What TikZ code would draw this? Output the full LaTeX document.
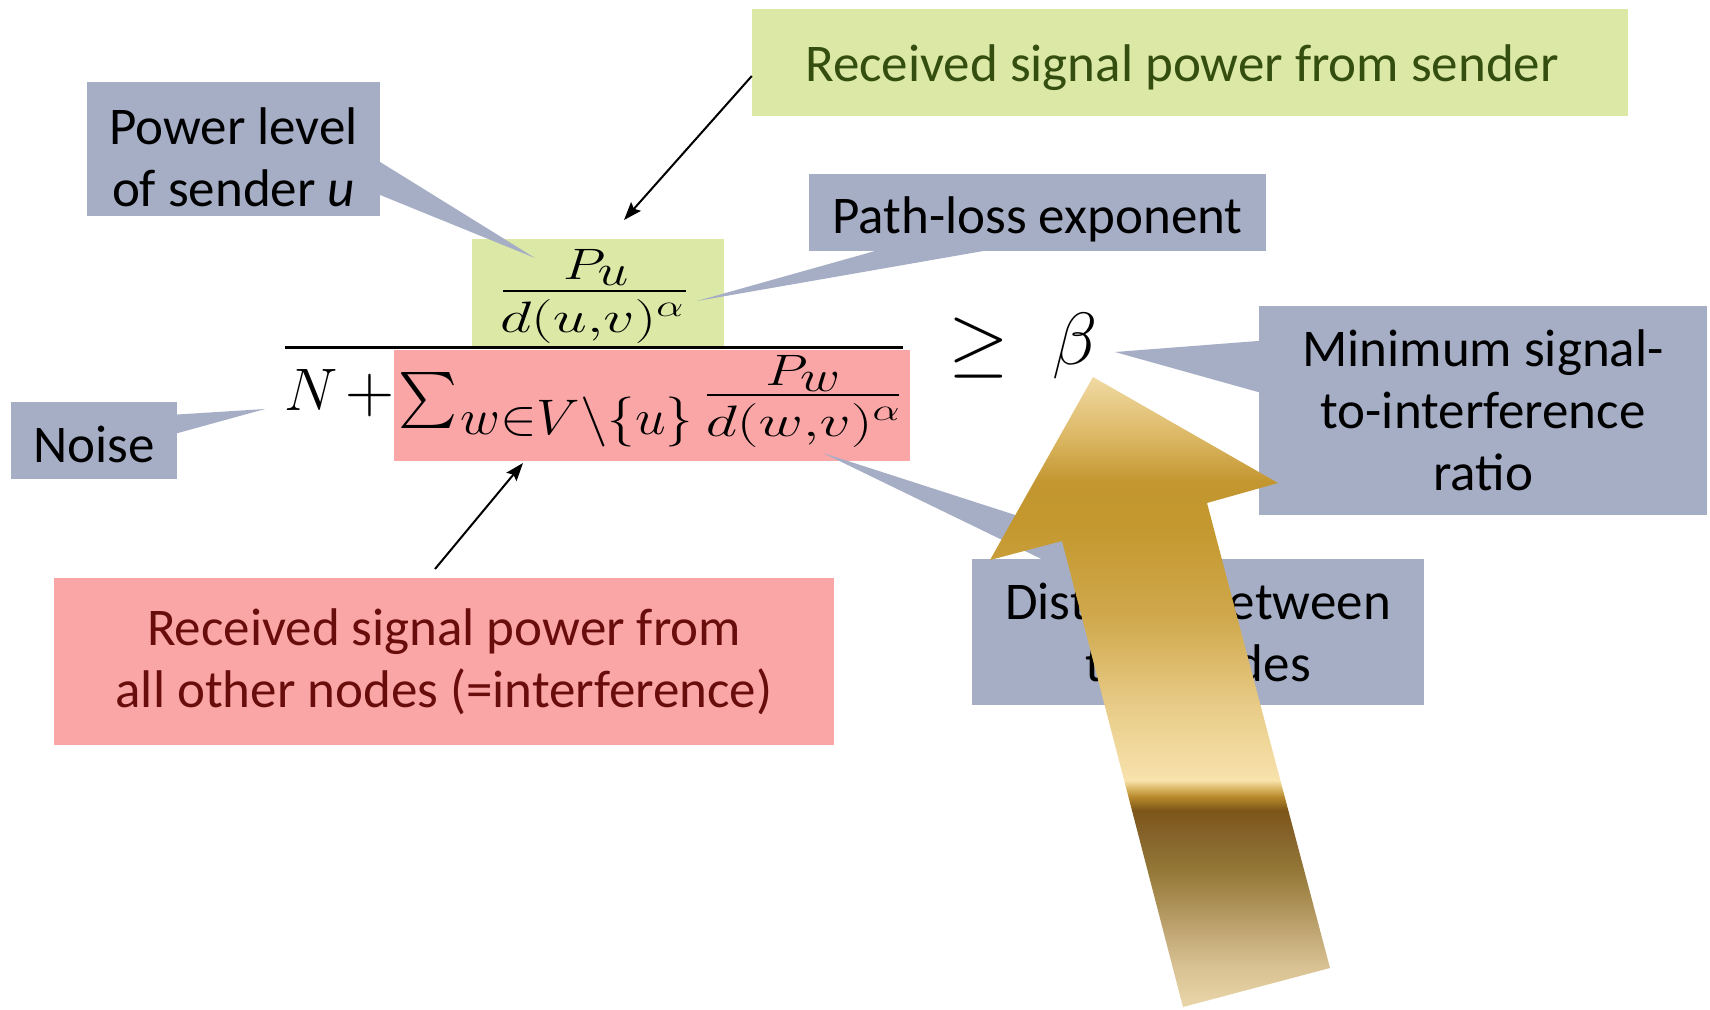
\RequirePackage{fix-cm}
\documentclass[tikz,border=0pt]{standalone}
\usepackage{amsmath}
\usepackage{graphicx}
\usepackage[no-math]{fontspec}
\setmainfont{Carlito}
\usetikzlibrary{arrows.meta,calc}
\definecolor{bgray}{RGB}{166,174,198}
\definecolor{lgreen}{RGB}{219,232,166}
\definecolor{lred}{RGB}{250,166,166}
\definecolor{dgreen}{RGB}{52,78,16}
\definecolor{dred}{RGB}{105,12,12}
\definecolor{gA}{HTML}{E9D6A8}
\definecolor{gB}{HTML}{D8C193}
\definecolor{gC}{HTML}{C1A774}
\definecolor{gD}{HTML}{A98D52}
\definecolor{gE}{HTML}{927636}
\definecolor{gF}{HTML}{85622A}
\definecolor{gG}{HTML}{7C5518}
\definecolor{gH}{HTML}{B88A2C}
\definecolor{gI}{HTML}{DDBA6A}
\definecolor{gJ}{HTML}{F8E3AC}
\definecolor{gK}{HTML}{F5DEA6}
\definecolor{gL}{HTML}{E8CC88}
\definecolor{gM}{HTML}{D0A84C}
\definecolor{gN}{HTML}{C4982F}
\definecolor{gO}{HTML}{C39630}
\definecolor{gP}{HTML}{DCB865}
\definecolor{gQ}{HTML}{F0D9A2}
\pgfdeclareverticalshading{goldarrow}{100bp}{color(0bp)=(gA); color(25bp)=(gA); color(28.2bp)=(gB); color(30.9bp)=(gC); color(33.5bp)=(gD); color(36.1bp)=(gE); color(38.8bp)=(gF); color(40.6bp)=(gG); color(41.7bp)=(gH); color(42.4bp)=(gI); color(43bp)=(gJ); color(44bp)=(gK); color(48.8bp)=(gL); color(56bp)=(gM); color(63.2bp)=(gN); color(66.7bp)=(gO); color(70.3bp)=(gP); color(75bp)=(gQ); color(100bp)=(gQ)}
\tikzset{
  txtbox/.style={rectangle, inner sep=0pt, align=center, font=\fontsize{53}{62}\selectfont},
  graybox/.style={txtbox, fill=bgray, text=black},
  wedge/.style={fill=bgray},
  mth/.style={inner sep=0pt, font=\fontsize{44}{50}\selectfont},
  fracrule/.style={line width=2.8pt},
  conn/.style={line width=2pt, -{Stealth[length=18pt,width=13pt,inset=3pt]}}
}
\begin{document}
\begin{tikzpicture}[x=1pt,y=-1pt]
\useasboundingbox (0,0) rectangle (1710,1009);
\fill[white] (0,0) rectangle (1710,1009);

% top green label
\node[txtbox, fill=lgreen, text=dgreen, minimum width=876pt, minimum height=107pt, text height=37pt, text depth=0pt] (gtop) at (1190,62.5) {Received signal power from sender\hspace*{16pt}};
\coordinate (a1e) at (624,220);
\draw[conn] ([yshift=-13.5pt]gtop.west) -- (a1e);

% formula highlight boxes
\node[fill=lgreen, inner sep=0pt, minimum width=252pt, minimum height=107pt] (gfrac) at (598,292.5) {};
\node[fill=lred, inner sep=0pt, minimum width=516pt, minimum height=111pt] (rfrac) at (652,405.5) {};

% power level callout
\coordinate (powtip) at (535,258);
\node[graybox, minimum width=293pt, minimum height=134pt] (power) at (233.5,149) {\rule{0pt}{53pt}Power level\\of sender \textit{u}};
\fill[wedge] ($([xshift=-3pt]power.north east)!7/12!([xshift=-3pt]power.south east)$) -- (powtip) -- ($([xshift=-3pt]power.north east)!10/12!([xshift=-3pt]power.south east)$) -- cycle;

% path-loss callout
\coordinate (pltip) at (697,301);
\node[graybox, minimum width=457pt, minimum height=77pt, text height=41pt, text depth=0pt] (pl) at (1037.5,212.5) {Path-loss exponent};
\fill[wedge] ($([yshift=3pt]pl.south west)!2/12!([yshift=3pt]pl.south east)$) -- (pltip) -- ($([yshift=3pt]pl.south west)!5/12!([yshift=3pt]pl.south east)$) -- cycle;

% noise callout
\coordinate (noisetip) at (265,409);
\node[graybox, minimum width=166pt, minimum height=77pt, text height=43pt, text depth=0pt] (noise) at (94,440.5) {Noise};
\fill[wedge] ($([xshift=-3pt]noise.north east)!2/12!([xshift=-3pt]noise.south east)$) -- (noisetip) -- ($([xshift=-3pt]noise.north east)!5/12!([xshift=-3pt]noise.south east)$) -- cycle;

% formula
\draw[line width=3pt] (285,347) -- (903,347);
\node[mth, anchor=base] (pu) at (596,279) {\scalebox{1.25}[1]{$P_{\textstyle u}$}};
\draw[fracrule] (503,291) -- (686,291);
\node[mth, anchor=base] (duv) at (592,332) {\scalebox{1.39}[1]{$d(u{,}v)^{\alpha}$}};
\node[inner sep=0pt, anchor=base west, font=\fontsize{60}{64}\selectfont] (nn) at (284,410) {$N$};
\node[inner sep=0pt, font=\fontsize{68}{70}\selectfont] (plus) at (370,395) {$+$};
\node[inner sep=0pt, font=\fontsize{10}{12}\selectfont] (sig) at (428,400) {\scalebox{5.6}{$\textstyle\sum$}};
\node[inner sep=0pt, anchor=base west, font=\fontsize{50}{54}\selectfont] (sub) at (460,434) {\scalebox{1.1}[1]{$w{\in}V{\setminus}\{u\}$}};
\node[mth, anchor=base] (pw) at (803,385) {\scalebox{1.25}[1]{$P_{\textstyle w}$}};
\draw[fracrule] (707,395) -- (899,395);
\node[mth, anchor=base] (dwv) at (803,436) {\scalebox{1.39}[1]{$d(w{,}v)^{\alpha}$}};
\node[inner sep=0pt, anchor=base, font=\fontsize{78}{80}\selectfont] (geq) at (979,367) {$\geq$};
\node[inner sep=0pt, anchor=base, font=\fontsize{74}{80}\selectfont] (beta) at (1075,364) {$\beta$};

% interference label
\node[txtbox, fill=lred, text=dred, minimum width=780pt, minimum height=167pt] (rbot) at (444,661.5) {Received signal power from\\all other nodes (=interference)};
\coordinate (a2s) at (435,569);
\coordinate (a2e) at (523,463);
\draw[conn] (a2s) -- (a2e);

% minimum SIR callout
\coordinate (sirtip) at (1115,352);
\node[graybox, minimum width=448pt, minimum height=209pt] (sir) at (1483,410.5) {Minimum signal-\\to-interference\\ratio};
\fill[wedge] ($([xshift=3pt]sir.north west)!2/12!([xshift=3pt]sir.south west)$) -- (sirtip) -- ($([xshift=3pt]sir.north west)!5/12!([xshift=3pt]sir.south west)$) -- cycle;

% distance callout
\coordinate (disttip) at (823,453);
\node[graybox, minimum width=452pt, minimum height=146pt] (dist) at (1198,632) {Distance between\\two nodes};
\fill[wedge] ($([yshift=-3pt]dist.north west)!2/12!([yshift=-3pt]dist.north east)$) -- (disttip) -- ($([yshift=-3pt]dist.north west)!5/12!([yshift=-3pt]dist.north east)$) -- cycle;

% big gold arrow
\shade[shading=goldarrow] (1093,377) -- (1278,483) -- (1207,503) -- (1330,968) -- (1183,1007) -- (1062,541) -- (990,560) -- cycle;
\end{tikzpicture}
\end{document}
